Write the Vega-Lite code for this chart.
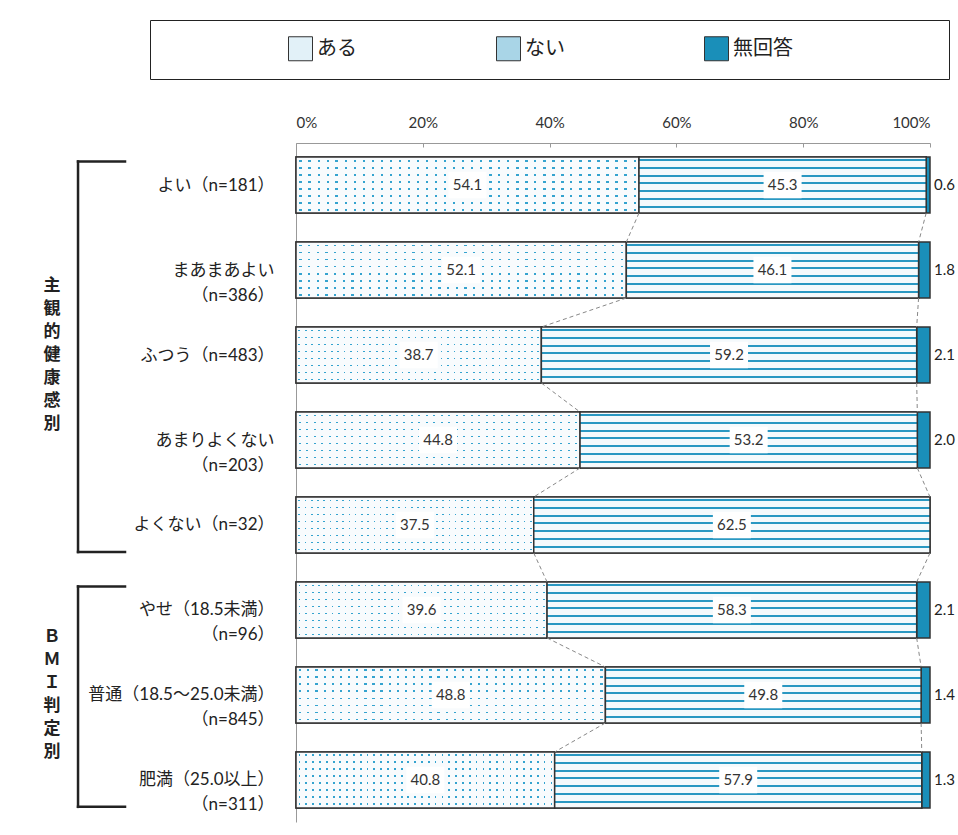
{
  "$schema": "https://vega.github.io/schema/vega-lite/v6.json",
  "width": 634,
  "height": 679,
  "autosize": {"type": "none"},
  "padding": {"left": 296, "top": 143, "right": 28, "bottom": 13},
  "background": "white",
  "config": {
    "view": {"stroke": null},
    "font": "Lato, 'Noto Sans CJK JP'"
  },
  "data": {
    "values": [
      {"cat": "よい（n=181）", "ある": 54.1, "ない": 45.3, "無回答": 0.6},
      {"cat": "まあまあよい|（n=386）", "ある": 52.1, "ない": 46.1, "無回答": 1.8},
      {"cat": "ふつう（n=483）", "ある": 38.7, "ない": 59.2, "無回答": 2.1},
      {"cat": "あまりよくない|（n=203）", "ある": 44.8, "ない": 53.2, "無回答": 2.0},
      {"cat": "よくない（n=32）", "ある": 37.5, "ない": 62.5, "無回答": 0},
      {"cat": "やせ（18.5未満）|（n=96）", "ある": 39.6, "ない": 58.3, "無回答": 2.1},
      {"cat": "普通（18.5～25.0未満）|（n=845）", "ある": 48.8, "ない": 49.8, "無回答": 1.4},
      {"cat": "肥満（25.0以上）|（n=311）", "ある": 40.8, "ない": 57.9, "無回答": 1.3}
    ]
  },
  "layer": [
    {
      "transform": [
        {"fold": ["ある", "ない", "無回答"], "as": ["k", "v"]},
        {"filter": "datum.v > 0"},
        {"stack": "v", "groupby": ["cat"], "sort": [{"field": "k", "order": "ascending"}], "as": ["x0", "x1"]}
      ],
      "mark": {"type": "bar", "stroke": "#333333", "strokeWidth": 1.5},
      "encoding": {
        "y": {
          "field": "cat", "type": "nominal", "title": null,
          "scale": {
            "domain": ["よい（n=181）", "まあまあよい|（n=386）", "ふつう（n=483）", "あまりよくない|（n=203）", "よくない（n=32）", "やせ（18.5未満）|（n=96）", "普通（18.5～25.0未満）|（n=845）", "肥満（25.0以上）|（n=311）"],
            "paddingInner": 0.341, "paddingOuter": 0.165
          },
          "axis": {
            "orient": "left", "domainColor": "#999999", "domainWidth": 1,
            "tickColor": "#999999", "tickSize": -5, "tickBand": "extent",
            "labelExpr": "split(datum.label, '|')",
            "labelFontSize": 17, "labelFont": "Lato, 'Noto Sans CJK JP'", "labelColor": "#222222",
            "labelLineHeight": 25, "labelPadding": 27, "labelLimit": 300, "labelAlign": "right", "labelBaseline": "middle"
          }
        },
        "x": {
          "field": "x0", "type": "quantitative", "title": null,
          "scale": {"domain": [0, 100], "nice": false},
          "axis": {
            "orient": "top", "values": [0, 20, 40, 60, 80, 100], "labelExpr": "datum.value + '%'",
            "domainColor": "#999999", "tickColor": "#999999", "tickSize": -4, "labelPadding": 17,
            "labelFontSize": 15, "labelColor": "#333333", "grid": false
          }
        },
        "x2": {"field": "x1"},
        "fill": {
          "field": "k", "type": "nominal",
          "scale": {"domain": ["ある", "ない", "無回答"], "range": ["#e2f1f8", "#a9d5e7", "#1a8fb9"]},
          "legend": {
            "orient": "none", "legendX": -146, "legendY": -123, "direction": "horizontal",
            "title": "　", "titleOrient": "left", "titlePadding": 122, "titleFontSize": 20, "titleFont": "'Noto Sans CJK JP'",
            "symbolType": "square", "symbolSize": 576, "symbolStrokeColor": "#333333", "symbolStrokeWidth": 1, "symbolOpacity": 1,
            "labelFontSize": 20, "labelFont": "'Noto Sans CJK JP'", "labelColor": "#222222", "labelOffset": 4, "labelLimit": 400,
            "labelExpr": "datum.label == '無回答' ? '無回答　　　　　　　\u200b' : datum.label",
            "columnPadding": 137, "padding": 16, "strokeColor": "#222222", "fillColor": "#ffffff",
            "encode": {"legend": {"strokeWidth": {"value": 1.6}}}
          }
        }
      }
    },
    {
      "mark": {
        "type": "bar", "strokeWidth": 0,
        "fill": {"gradient": "linear", "x1": 0, "y1": 0, "x2": 1, "y2": 0, "stops": [
          {"offset": 0, "color": "#f8fbfd"},
          {"offset": 0.010, "color": "#f8fbfd"}, {"offset": 0.010, "color": "#34a3cf"}, {"offset": 0.017, "color": "#34a3cf"}, {"offset": 0.017, "color": "#f8fbfd"},
          {"offset": 0.036, "color": "#f8fbfd"}, {"offset": 0.036, "color": "#34a3cf"}, {"offset": 0.043, "color": "#34a3cf"}, {"offset": 0.043, "color": "#f8fbfd"},
          {"offset": 0.063, "color": "#f8fbfd"}, {"offset": 0.063, "color": "#34a3cf"}, {"offset": 0.070, "color": "#34a3cf"}, {"offset": 0.070, "color": "#f8fbfd"},
          {"offset": 0.089, "color": "#f8fbfd"}, {"offset": 0.089, "color": "#34a3cf"}, {"offset": 0.096, "color": "#34a3cf"}, {"offset": 0.096, "color": "#f8fbfd"},
          {"offset": 0.115, "color": "#f8fbfd"}, {"offset": 0.115, "color": "#34a3cf"}, {"offset": 0.122, "color": "#34a3cf"}, {"offset": 0.122, "color": "#f8fbfd"},
          {"offset": 0.142, "color": "#f8fbfd"}, {"offset": 0.142, "color": "#34a3cf"}, {"offset": 0.149, "color": "#34a3cf"}, {"offset": 0.149, "color": "#f8fbfd"},
          {"offset": 0.168, "color": "#f8fbfd"}, {"offset": 0.168, "color": "#34a3cf"}, {"offset": 0.175, "color": "#34a3cf"}, {"offset": 0.175, "color": "#f8fbfd"},
          {"offset": 0.194, "color": "#f8fbfd"}, {"offset": 0.194, "color": "#34a3cf"}, {"offset": 0.201, "color": "#34a3cf"}, {"offset": 0.201, "color": "#f8fbfd"},
          {"offset": 0.221, "color": "#f8fbfd"}, {"offset": 0.221, "color": "#34a3cf"}, {"offset": 0.228, "color": "#34a3cf"}, {"offset": 0.228, "color": "#f8fbfd"},
          {"offset": 0.247, "color": "#f8fbfd"}, {"offset": 0.247, "color": "#34a3cf"}, {"offset": 0.254, "color": "#34a3cf"}, {"offset": 0.254, "color": "#f8fbfd"},
          {"offset": 0.273, "color": "#f8fbfd"}, {"offset": 0.273, "color": "#34a3cf"}, {"offset": 0.280, "color": "#34a3cf"}, {"offset": 0.280, "color": "#f8fbfd"},
          {"offset": 0.299, "color": "#f8fbfd"}, {"offset": 0.299, "color": "#34a3cf"}, {"offset": 0.306, "color": "#34a3cf"}, {"offset": 0.306, "color": "#f8fbfd"},
          {"offset": 0.326, "color": "#f8fbfd"}, {"offset": 0.326, "color": "#34a3cf"}, {"offset": 0.333, "color": "#34a3cf"}, {"offset": 0.333, "color": "#f8fbfd"},
          {"offset": 0.352, "color": "#f8fbfd"}, {"offset": 0.352, "color": "#34a3cf"}, {"offset": 0.359, "color": "#34a3cf"}, {"offset": 0.359, "color": "#f8fbfd"},
          {"offset": 0.378, "color": "#f8fbfd"}, {"offset": 0.378, "color": "#34a3cf"}, {"offset": 0.385, "color": "#34a3cf"}, {"offset": 0.385, "color": "#f8fbfd"},
          {"offset": 0.405, "color": "#f8fbfd"}, {"offset": 0.405, "color": "#34a3cf"}, {"offset": 0.412, "color": "#34a3cf"}, {"offset": 0.412, "color": "#f8fbfd"},
          {"offset": 0.431, "color": "#f8fbfd"}, {"offset": 0.431, "color": "#34a3cf"}, {"offset": 0.438, "color": "#34a3cf"}, {"offset": 0.438, "color": "#f8fbfd"},
          {"offset": 0.457, "color": "#f8fbfd"}, {"offset": 0.457, "color": "#34a3cf"}, {"offset": 0.464, "color": "#34a3cf"}, {"offset": 0.464, "color": "#f8fbfd"},
          {"offset": 0.484, "color": "#f8fbfd"}, {"offset": 0.484, "color": "#34a3cf"}, {"offset": 0.491, "color": "#34a3cf"}, {"offset": 0.491, "color": "#f8fbfd"},
          {"offset": 0.510, "color": "#f8fbfd"}, {"offset": 0.510, "color": "#34a3cf"}, {"offset": 0.517, "color": "#34a3cf"}, {"offset": 0.517, "color": "#f8fbfd"},
          {"offset": 0.536, "color": "#f8fbfd"}, {"offset": 0.536, "color": "#34a3cf"}, {"offset": 0.543, "color": "#34a3cf"}, {"offset": 0.543, "color": "#f8fbfd"},
          {"offset": 0.563, "color": "#f8fbfd"}, {"offset": 0.563, "color": "#34a3cf"}, {"offset": 0.570, "color": "#34a3cf"}, {"offset": 0.570, "color": "#f8fbfd"},
          {"offset": 0.589, "color": "#f8fbfd"}, {"offset": 0.589, "color": "#34a3cf"}, {"offset": 0.596, "color": "#34a3cf"}, {"offset": 0.596, "color": "#f8fbfd"},
          {"offset": 0.615, "color": "#f8fbfd"}, {"offset": 0.615, "color": "#34a3cf"}, {"offset": 0.622, "color": "#34a3cf"}, {"offset": 0.622, "color": "#f8fbfd"},
          {"offset": 0.642, "color": "#f8fbfd"}, {"offset": 0.642, "color": "#34a3cf"}, {"offset": 0.649, "color": "#34a3cf"}, {"offset": 0.649, "color": "#f8fbfd"},
          {"offset": 0.668, "color": "#f8fbfd"}, {"offset": 0.668, "color": "#34a3cf"}, {"offset": 0.675, "color": "#34a3cf"}, {"offset": 0.675, "color": "#f8fbfd"},
          {"offset": 0.694, "color": "#f8fbfd"}, {"offset": 0.694, "color": "#34a3cf"}, {"offset": 0.701, "color": "#34a3cf"}, {"offset": 0.701, "color": "#f8fbfd"},
          {"offset": 0.721, "color": "#f8fbfd"}, {"offset": 0.721, "color": "#34a3cf"}, {"offset": 0.728, "color": "#34a3cf"}, {"offset": 0.728, "color": "#f8fbfd"},
          {"offset": 0.747, "color": "#f8fbfd"}, {"offset": 0.747, "color": "#34a3cf"}, {"offset": 0.754, "color": "#34a3cf"}, {"offset": 0.754, "color": "#f8fbfd"},
          {"offset": 0.773, "color": "#f8fbfd"}, {"offset": 0.773, "color": "#34a3cf"}, {"offset": 0.780, "color": "#34a3cf"}, {"offset": 0.780, "color": "#f8fbfd"},
          {"offset": 0.799, "color": "#f8fbfd"}, {"offset": 0.799, "color": "#34a3cf"}, {"offset": 0.806, "color": "#34a3cf"}, {"offset": 0.806, "color": "#f8fbfd"},
          {"offset": 0.826, "color": "#f8fbfd"}, {"offset": 0.826, "color": "#34a3cf"}, {"offset": 0.833, "color": "#34a3cf"}, {"offset": 0.833, "color": "#f8fbfd"},
          {"offset": 0.852, "color": "#f8fbfd"}, {"offset": 0.852, "color": "#34a3cf"}, {"offset": 0.859, "color": "#34a3cf"}, {"offset": 0.859, "color": "#f8fbfd"},
          {"offset": 0.878, "color": "#f8fbfd"}, {"offset": 0.878, "color": "#34a3cf"}, {"offset": 0.885, "color": "#34a3cf"}, {"offset": 0.885, "color": "#f8fbfd"},
          {"offset": 0.905, "color": "#f8fbfd"}, {"offset": 0.905, "color": "#34a3cf"}, {"offset": 0.912, "color": "#34a3cf"}, {"offset": 0.912, "color": "#f8fbfd"},
          {"offset": 0.931, "color": "#f8fbfd"}, {"offset": 0.931, "color": "#34a3cf"}, {"offset": 0.938, "color": "#34a3cf"}, {"offset": 0.938, "color": "#f8fbfd"},
          {"offset": 0.957, "color": "#f8fbfd"}, {"offset": 0.957, "color": "#34a3cf"}, {"offset": 0.964, "color": "#34a3cf"}, {"offset": 0.964, "color": "#f8fbfd"},
          {"offset": 0.984, "color": "#f8fbfd"}, {"offset": 0.984, "color": "#34a3cf"}, {"offset": 0.991, "color": "#34a3cf"}, {"offset": 0.991, "color": "#f8fbfd"},
          {"offset": 1, "color": "#f8fbfd"}
        ]}
      },
      "encoding": {
        "y": {"field": "cat", "type": "nominal", "title": null},
        "x": {"field": "ある", "type": "quantitative", "title": null},
        "x2": {"datum": 0}
      }
    },
    {
      "mark": {
        "type": "bar", "stroke": "#333333", "strokeWidth": 1.5,
        "fill": {"gradient": "linear", "x1": 0, "y1": 0, "x2": 0, "y2": 1, "stops": [
          {"offset": 0, "color": "#f8fbfd"},
          {"offset": 0.045, "color": "#f8fbfd"}, {"offset": 0.045, "color": "rgba(248,251,253,0)"}, {"offset": 0.080, "color": "rgba(248,251,253,0)"}, {"offset": 0.080, "color": "#f8fbfd"},
          {"offset": 0.170, "color": "#f8fbfd"}, {"offset": 0.170, "color": "rgba(248,251,253,0)"}, {"offset": 0.205, "color": "rgba(248,251,253,0)"}, {"offset": 0.205, "color": "#f8fbfd"},
          {"offset": 0.295, "color": "#f8fbfd"}, {"offset": 0.295, "color": "rgba(248,251,253,0)"}, {"offset": 0.330, "color": "rgba(248,251,253,0)"}, {"offset": 0.330, "color": "#f8fbfd"},
          {"offset": 0.420, "color": "#f8fbfd"}, {"offset": 0.420, "color": "rgba(248,251,253,0)"}, {"offset": 0.455, "color": "rgba(248,251,253,0)"}, {"offset": 0.455, "color": "#f8fbfd"},
          {"offset": 0.545, "color": "#f8fbfd"}, {"offset": 0.545, "color": "rgba(248,251,253,0)"}, {"offset": 0.580, "color": "rgba(248,251,253,0)"}, {"offset": 0.580, "color": "#f8fbfd"},
          {"offset": 0.670, "color": "#f8fbfd"}, {"offset": 0.670, "color": "rgba(248,251,253,0)"}, {"offset": 0.705, "color": "rgba(248,251,253,0)"}, {"offset": 0.705, "color": "#f8fbfd"},
          {"offset": 0.795, "color": "#f8fbfd"}, {"offset": 0.795, "color": "rgba(248,251,253,0)"}, {"offset": 0.830, "color": "rgba(248,251,253,0)"}, {"offset": 0.830, "color": "#f8fbfd"},
          {"offset": 0.920, "color": "#f8fbfd"}, {"offset": 0.920, "color": "rgba(248,251,253,0)"}, {"offset": 0.955, "color": "rgba(248,251,253,0)"}, {"offset": 0.955, "color": "#f8fbfd"},
          {"offset": 1, "color": "#f8fbfd"}
        ]}
      },
      "encoding": {
        "y": {"field": "cat", "type": "nominal", "title": null},
        "x": {"field": "ある", "type": "quantitative", "title": null},
        "x2": {"datum": 0}
      }
    },
    {
      "transform": [{"calculate": "datum['ある'] + datum['ない']", "as": "ab"}],
      "mark": {
        "type": "bar", "stroke": "#333333", "strokeWidth": 1.5,
        "fill": {"gradient": "linear", "x1": 0, "y1": 0, "x2": 0, "y2": 1, "stops": [
          {"offset": 0, "color": "#f5fafc"},
          {"offset": 0.036, "color": "#f5fafc"}, {"offset": 0.036, "color": "#2a98c2"}, {"offset": 0.071, "color": "#2a98c2"}, {"offset": 0.071, "color": "#f5fafc"},
          {"offset": 0.175, "color": "#f5fafc"}, {"offset": 0.175, "color": "#2a98c2"}, {"offset": 0.211, "color": "#2a98c2"}, {"offset": 0.211, "color": "#f5fafc"},
          {"offset": 0.314, "color": "#f5fafc"}, {"offset": 0.314, "color": "#2a98c2"}, {"offset": 0.350, "color": "#2a98c2"}, {"offset": 0.350, "color": "#f5fafc"},
          {"offset": 0.454, "color": "#f5fafc"}, {"offset": 0.454, "color": "#2a98c2"}, {"offset": 0.489, "color": "#2a98c2"}, {"offset": 0.489, "color": "#f5fafc"},
          {"offset": 0.593, "color": "#f5fafc"}, {"offset": 0.593, "color": "#2a98c2"}, {"offset": 0.629, "color": "#2a98c2"}, {"offset": 0.629, "color": "#f5fafc"},
          {"offset": 0.732, "color": "#f5fafc"}, {"offset": 0.732, "color": "#2a98c2"}, {"offset": 0.768, "color": "#2a98c2"}, {"offset": 0.768, "color": "#f5fafc"},
          {"offset": 0.871, "color": "#f5fafc"}, {"offset": 0.871, "color": "#2a98c2"}, {"offset": 0.907, "color": "#2a98c2"}, {"offset": 0.907, "color": "#f5fafc"},
          {"offset": 1, "color": "#f5fafc"}
        ]}
      },
      "encoding": {
        "y": {"field": "cat", "type": "nominal", "title": null},
        "x": {"field": "ある", "type": "quantitative", "title": null},
        "x2": {"field": "ab"}
      }
    },
    {
      "transform": [
        {"calculate": "datum['ある'] + datum['ない']", "as": "ab"},
        {"window": [
          {"op": "lead", "field": "ある", "as": "na"},
          {"op": "lead", "field": "ab", "as": "nab"},
          {"op": "lead", "field": "cat", "as": "ncat"}
        ]},
        {"filter": "datum.ncat != null"}
      ],
      "layer": [
        {
          "mark": {"type": "rule", "strokeDash": [4, 3], "color": "#888888", "strokeWidth": 1},
          "encoding": {
            "x": {"field": "ある", "type": "quantitative", "title": null},
            "x2": {"field": "na"},
            "y": {"field": "cat", "type": "nominal", "bandPosition": 1, "title": null},
            "y2": {"field": "ncat", "bandPosition": 0}
          }
        },
        {
          "mark": {"type": "rule", "strokeDash": [4, 3], "color": "#888888", "strokeWidth": 1},
          "encoding": {
            "x": {"field": "ab", "type": "quantitative", "title": null},
            "x2": {"field": "nab"},
            "y": {"field": "cat", "type": "nominal", "bandPosition": 1, "title": null},
            "y2": {"field": "ncat", "bandPosition": 0}
          }
        }
      ]
    },
    {
      "transform": [
        {"fold": ["ある", "ない", "無回答"], "as": ["k", "v"]},
        {"filter": "datum.v > 0"},
        {"stack": "v", "groupby": ["cat"], "sort": [{"field": "k", "order": "ascending"}], "as": ["x0", "x1"]},
        {"filter": "datum.k != '無回答'"},
        {"calculate": "(datum.x0 + datum.x1) / 2", "as": "mid"}
      ],
      "layer": [
        {
          "mark": {"type": "point", "shape": "M-1,-0.7H1V0.7H-1Z", "filled": true, "color": "#ffffff", "opacity": 1, "size": 1444, "strokeWidth": 0},
          "encoding": {
            "x": {"field": "mid", "type": "quantitative", "title": null},
            "y": {"field": "cat", "type": "nominal", "title": null}
          }
        },
        {
          "mark": {"type": "text", "fontSize": 15, "color": "#333333", "font": "Lato", "baseline": "middle", "align": "center"},
          "encoding": {
            "x": {"field": "mid", "type": "quantitative", "title": null},
            "y": {"field": "cat", "type": "nominal", "title": null},
            "text": {"field": "v", "type": "quantitative", "format": ".1f"}
          }
        }
      ]
    },
    {
      "transform": [{"filter": "datum['無回答'] > 0"}],
      "mark": {"type": "text", "fontSize": 15, "color": "#222222", "font": "Lato", "align": "left", "baseline": "middle", "dx": 4},
      "encoding": {
        "x": {"datum": 100, "type": "quantitative", "title": null},
        "y": {"field": "cat", "type": "nominal", "title": null},
        "text": {"field": "無回答", "type": "quantitative", "format": ".1f"}
      }
    },
    {
      "data": {
        "values": [
          {"g": "主観的健康感別", "first": "よい（n=181）", "last": "よくない（n=32）", "mid": "ふつう（n=483）"},
          {"g": "ＢＭＩ判定別", "first": "やせ（18.5未満）|（n=96）", "last": "肥満（25.0以上）|（n=311）", "mid": "普通（18.5～25.0未満）|（n=845）"}
        ]
      },
      "transform": [{"calculate": "join(split(datum.g, ''), '\\n')", "as": "chars"}],
      "layer": [
        {
          "mark": {"type": "rule", "color": "#222222", "strokeWidth": 2.5, "strokeCap": "square"},
          "encoding": {
            "x": {"datum": -34.38, "type": "quantitative", "title": null},
            "y": {"field": "first", "type": "nominal", "bandPosition": 0.08, "title": null},
            "y2": {"field": "last", "bandPosition": 0.98}
          }
        },
        {
          "mark": {"type": "rule", "color": "#222222", "strokeWidth": 2.5, "strokeCap": "square"},
          "encoding": {
            "x": {"datum": -34.38, "type": "quantitative", "title": null},
            "x2": {"datum": -26.97},
            "y": {"field": "first", "type": "nominal", "bandPosition": 0.08, "title": null}
          }
        },
        {
          "mark": {"type": "rule", "color": "#222222", "strokeWidth": 2.5, "strokeCap": "square"},
          "encoding": {
            "x": {"datum": -34.38, "type": "quantitative", "title": null},
            "x2": {"datum": -26.97},
            "y": {"field": "last", "type": "nominal", "bandPosition": 0.98, "title": null}
          }
        },
        {
          "transform": [{"filter": "datum.g == '主観的健康感別'"}],
          "mark": {"type": "text", "font": "'Noto Sans CJK JP'", "fontSize": 17, "fontWeight": "bold", "color": "#222222", "lineBreak": "\n", "lineHeight": 23, "align": "center", "baseline": "middle", "dy": -69},
          "encoding": {
            "x": {"datum": -38.49, "type": "quantitative", "title": null},
            "y": {"field": "mid", "type": "nominal", "title": null},
            "text": {"field": "chars", "type": "nominal"}
          }
        },
        {
          "transform": [{"filter": "datum.g == 'ＢＭＩ判定別'"}],
          "mark": {"type": "text", "font": "'Noto Sans CJK JP'", "fontSize": 17, "fontWeight": "bold", "color": "#222222", "lineBreak": "\n", "lineHeight": 23, "align": "center", "baseline": "middle", "dy": -57.5},
          "encoding": {
            "x": {"datum": -38.49, "type": "quantitative", "title": null},
            "y": {"field": "mid", "type": "nominal", "title": null},
            "text": {"field": "chars", "type": "nominal"}
          }
        }
      ]
    }
  ]
}
